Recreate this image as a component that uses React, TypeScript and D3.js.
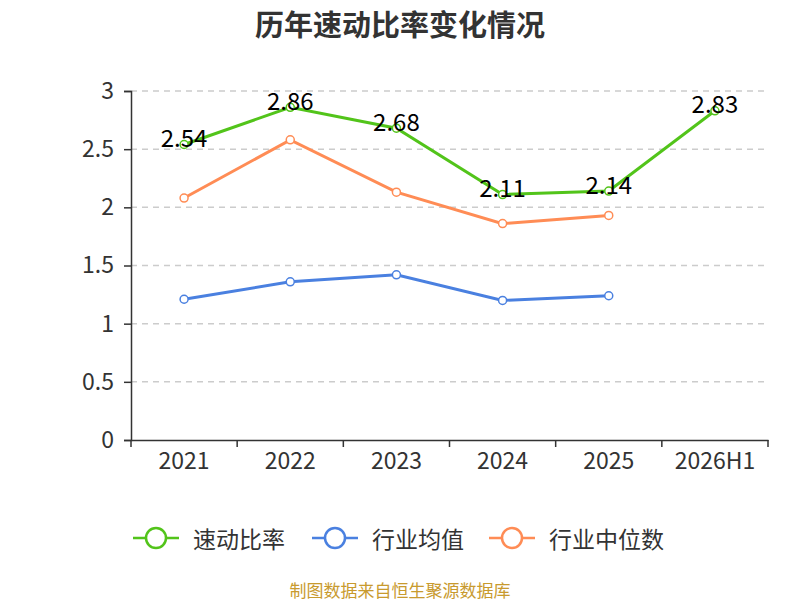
import * as d3 from "d3";
import { useEffect, useRef } from "react";

const years = ["2021", "2022", "2023", "2024", "2025", "2026H1"];
const quickRatio = [2.54, 2.86, 2.68, 2.11, 2.14, 2.83];
const industryAvg = [1.21, 1.36, 1.42, 1.2, 1.24];
const industryMedian = [2.08, 2.58, 2.13, 1.86, 1.93];
const yTicks = [0, 0.5, 1, 1.5, 2, 2.5, 3];

const seriesList = [
  { name: "速动比率", color: "#52c41a", values: quickRatio, labels: true },
  { name: "行业均值", color: "#4a80e0", values: industryAvg, labels: false },
  { name: "行业中位数", color: "#ff8c55", values: industryMedian, labels: false },
];

const WIDTH = 800;
const HEIGHT = 600;
const MARGIN = { top: 91, right: 32, bottom: 160, left: 131 };
const FONT = "'Noto Sans CJK SC', 'Noto Sans', sans-serif";

export default function App() {
  const svgRef = useRef<SVGSVGElement | null>(null);

  useEffect(() => {
    if (!svgRef.current) return;
    const svg = d3.select(svgRef.current);
    svg.selectAll("*").remove();

    const innerW = WIDTH - MARGIN.left - MARGIN.right;
    const innerH = HEIGHT - MARGIN.top - MARGIN.bottom;

    const x = d3.scaleBand<string>().domain(years).range([0, innerW]);
    const y = d3.scaleLinear().domain([0, 3]).range([innerH, 0]);

    svg
      .append("text")
      .attr("x", WIDTH / 2)
      .attr("y", 23)
      .attr("text-anchor", "middle")
      .attr("dominant-baseline", "central")
      .attr("font-size", 29)
      .attr("font-weight", "bold")
      .attr("fill", "#333")
      .text("历年速动比率变化情况");

    const root = svg
      .append("g")
      .attr("transform", `translate(${MARGIN.left},${MARGIN.top})`);

    // grid
    root
      .append("g")
      .selectAll("line")
      .data(yTicks.filter((t) => t > 0))
      .join("line")
      .attr("x1", 0)
      .attr("x2", innerW)
      .attr("y1", (d) => y(d))
      .attr("y2", (d) => y(d))
      .attr("stroke", "#ccc")
      .attr("stroke-width", 1.5)
      .attr("stroke-dasharray", "6,5");

    // y axis
    root
      .append("g")
      .call(
        d3
          .axisLeft(y)
          .tickValues(yTicks)
          .tickFormat((d) => String(d))
          .tickSize(7)
          .tickPadding(10),
      )
      .call((g) => {
        g.selectAll("line, path").attr("stroke", "#333").attr("stroke-width", 1.5);
        g.selectAll("text")
          .attr("font-size", 23)
          .attr("fill", "#333")
          .attr("font-family", FONT);
      });

    // x axis
    const xAxis = root
      .append("g")
      .attr("transform", `translate(0,${innerH})`)
      .call(d3.axisBottom(x).tickSize(0).tickPadding(13).tickSizeOuter(0));
    xAxis.select(".domain").attr("stroke", "#333").attr("stroke-width", 1.5);
    xAxis
      .selectAll("text")
      .attr("font-size", 23)
      .attr("fill", "#333")
      .attr("font-family", FONT);
    xAxis
      .selectAll("line.bound")
      .data([...years.map((yr) => x(yr) ?? 0), innerW])
      .join("line")
      .attr("class", "bound")
      .attr("x1", (d) => d)
      .attr("x2", (d) => d)
      .attr("y1", 0)
      .attr("y2", 7)
      .attr("stroke", "#333")
      .attr("stroke-width", 1.5);

    const cx = (i: number) => (x(years[i]) ?? 0) + x.bandwidth() / 2;

    seriesList.forEach((s) => {
      const line = d3
        .line<number>()
        .x((_, i) => cx(i))
        .y((d) => y(d));
      root
        .append("path")
        .datum(s.values)
        .attr("d", line)
        .attr("fill", "none")
        .attr("stroke", s.color)
        .attr("stroke-width", 3);
      root
        .append("g")
        .selectAll("circle")
        .data(s.values)
        .join("circle")
        .attr("cx", (_, i) => cx(i))
        .attr("cy", (d) => y(d))
        .attr("r", 4)
        .attr("fill", "#fff")
        .attr("stroke", s.color)
        .attr("stroke-width", 1.5);
    });

    seriesList
      .filter((s) => s.labels)
      .forEach((s) => {
        root
          .append("g")
          .selectAll("text")
          .data(s.values)
          .join("text")
          .attr("x", (_, i) => cx(i))
          .attr("y", (d) => y(d) - 4)
          .attr("text-anchor", "middle")
          .attr("dominant-baseline", "middle")
          .attr("font-size", 24)
          .attr("fill", "#000")
          .text((d) => d.toFixed(2));
      });

    // legend
    const legendX = [133, 312, 489];
    const legend = svg
      .append("g")
      .selectAll("g")
      .data(seriesList)
      .join("g")
      .attr("transform", (_, i) => `translate(${legendX[i]},538)`);
    legend
      .append("line")
      .attr("x1", 0)
      .attr("x2", 46)
      .attr("stroke", (d) => d.color)
      .attr("stroke-width", 2.5);
    legend
      .append("circle")
      .attr("cx", 23)
      .attr("r", 10)
      .attr("fill", "#fff")
      .attr("stroke", (d) => d.color)
      .attr("stroke-width", 2.5);
    legend
      .append("text")
      .attr("x", 60)
      .attr("dominant-baseline", "central")
      .attr("font-size", 23)
      .attr("fill", "#333")
      .text((d) => d.name);

    svg
      .append("text")
      .attr("x", WIDTH / 2)
      .attr("y", 589)
      .attr("text-anchor", "middle")
      .attr("dominant-baseline", "central")
      .attr("font-size", 17)
      .attr("fill", "#c89a2e")
      .text("制图数据来自恒生聚源数据库");
  }, []);

  return (
    <svg
      ref={svgRef}
      width={WIDTH}
      height={HEIGHT}
      style={{
        position: "absolute",
        left: 0,
        top: 0,
        fontFamily: FONT,
        background: "#fff",
      }}
    />
  );
}
